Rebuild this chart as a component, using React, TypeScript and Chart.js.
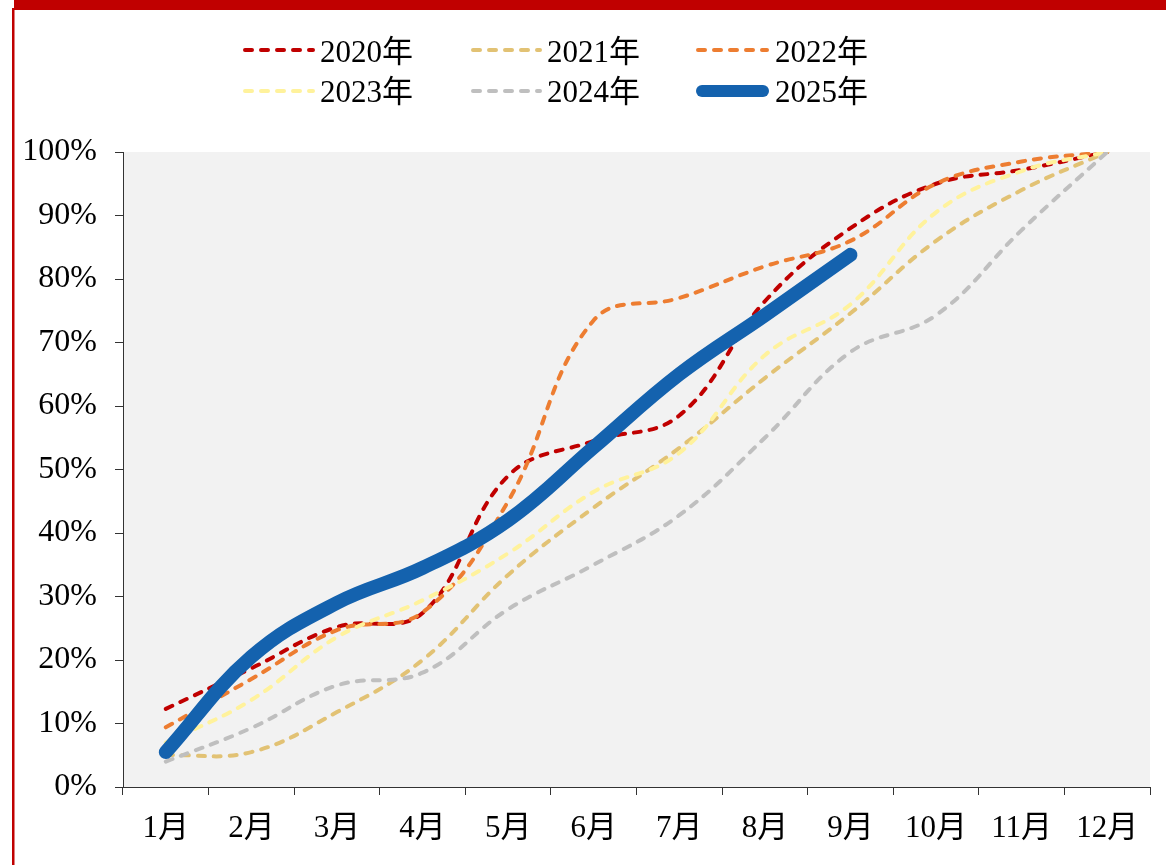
import React, { useEffect, useRef } from 'react';
import { Chart, registerables } from 'chart.js';

Chart.register(...registerables);

const months = ['1月', '2月', '3月', '4月', '5月', '6月', '7月', '8月', '9月', '10月', '11月', '12月'];
const yearLabels = ['2020年', '2021年', '2022年', '2023年', '2024年', '2025年'];
const s2020 = [12.3, 18.7, 25.2, 27.4, 49, 54.5, 58.5, 76.5, 88, 95, 97.2, 100];
const s2021 = [5, 5.5, 11.8, 20, 33.4, 44, 53.4, 64.4, 74.6, 86, 94, 100];
const s2022 = [9.4, 17, 24.7, 27.5, 45, 73.5, 77, 82, 86, 95, 98.5, 100];
const s2023 = [7, 13.7, 23.6, 29.4, 36.8, 46.5, 52.6, 68, 76, 90.5, 97, 100];
const s2024 = [4, 9.3, 16, 18, 28, 35, 42.8, 55, 68.5, 74.3, 87.7, 100];
const s2025 = [5.5, 20.5, 29, 34.5, 42, 53.5, 65, 74.3, 83.8];

const colors = ['#c00000', '#e2c274', '#ed7d31', '#fff29c', '#bfbfbf', '#1462ae'];
const FONT = '"Liberation Serif", "Times New Roman", "Noto Sans CJK SC", serif';

const framePlugin = {
  id: 'frame',
  beforeDraw(chart: any) {
    const { ctx, chartArea } = chart;
    ctx.save();
    ctx.fillStyle = '#f2f2f2';
    ctx.fillRect(chartArea.left, chartArea.top, chartArea.right - chartArea.left, chartArea.bottom - chartArea.top);
    ctx.fillStyle = '#c00000';
    ctx.fillRect(14, 0, chart.width - 14, 10);
    ctx.fillRect(12, 8, 2.5, chart.height - 8);
    ctx.restore();
  },
  afterDraw(chart: any) {
    const { ctx } = chart;
    const cols = [
      { lx: 243, lw: 72, tx: 320 },
      { lx: 471, lw: 71, tx: 547 },
      { lx: 696, lw: 73, tx: 775 },
    ];
    const rows = [{ ly: 50, ty: 62 }, { ly: 91, ty: 102 }];
    ctx.save();
    chart.data.datasets.forEach((ds: any, i: number) => {
      const c = cols[i % 3];
      const r = rows[Math.floor(i / 3)];
      ctx.strokeStyle = ds.borderColor;
      ctx.lineWidth = ds.borderWidth > 6 ? 12 : ds.borderWidth;
      ctx.lineCap = 'round';
      ctx.setLineDash(ds.borderDash || []);
      ctx.beginPath();
      const pad = ds.borderWidth > 6 ? 6 : 2;
      ctx.moveTo(c.lx + pad, r.ly);
      ctx.lineTo(c.lx + c.lw - pad, r.ly);
      ctx.stroke();
      ctx.setLineDash([]);
      ctx.fillStyle = '#000';
      ctx.font = `31px ${FONT}`;
      ctx.textBaseline = 'alphabetic';
      ctx.textAlign = 'left';
      ctx.fillText(ds.label, c.tx, r.ty);
    });
    ctx.restore();
  },
};

const series = [s2020, s2021, s2022, s2023, s2024, s2025];

export default function App() {
  const ref = useRef<HTMLCanvasElement | null>(null);
  useEffect(() => {
    if (!ref.current) return;
    const datasets = series.map((d, i) => {
      const isMain = i === 5;
      return {
        label: yearLabels[i],
        data: d,
        borderColor: colors[i],
        backgroundColor: colors[i],
        borderWidth: isMain ? 14 : 4,
        borderDash: isMain ? [] : [7, 9],
        borderCapStyle: 'round' as const,
        borderJoinStyle: 'round' as const,
        pointRadius: 0,
        pointHoverRadius: 0,
        tension: 0.4,
        fill: false,
        order: 6 - i,
      };
    });
    const chart = new Chart(ref.current, {
      type: 'line',
      data: { labels: months, datasets },
      plugins: [framePlugin],
      options: {
        animation: false,
        responsive: false,
        maintainAspectRatio: false,
        layout: { padding: { top: 152, right: 16, left: 0, bottom: 0 } },
        plugins: { legend: { display: false }, tooltip: { enabled: false } },
        scales: {
          x: {
            offset: true,
            afterFit: (s: any) => { s.height = 78; },
            grid: { offset: true, drawOnChartArea: false, drawTicks: true, tickLength: 8, color: '#333' },
            border: { color: '#333', width: 1 },
            ticks: { color: '#000', font: { family: FONT, size: 31 }, padding: 15, maxRotation: 0, autoSkip: false },
          },
          y: {
            min: 0,
            max: 100,
            afterFit: (s: any) => { s.width = 123; },
            grid: { drawOnChartArea: false, drawTicks: true, tickLength: 8, color: '#333' },
            border: { color: '#333', width: 1 },
            ticks: { stepSize: 10, color: '#000', font: { family: FONT, size: 32 }, padding: 18, callback: (v: any) => `${v}%` },
          },
        },
      },
    });
    return () => chart.destroy();
  }, []);
  return (
    <div style={{ position: 'fixed', left: 0, top: 0, width: 1166, height: 865, background: '#fff' }}>
      <canvas ref={ref} width={1166} height={865} style={{ display: 'block' }} />
    </div>
  );
}
